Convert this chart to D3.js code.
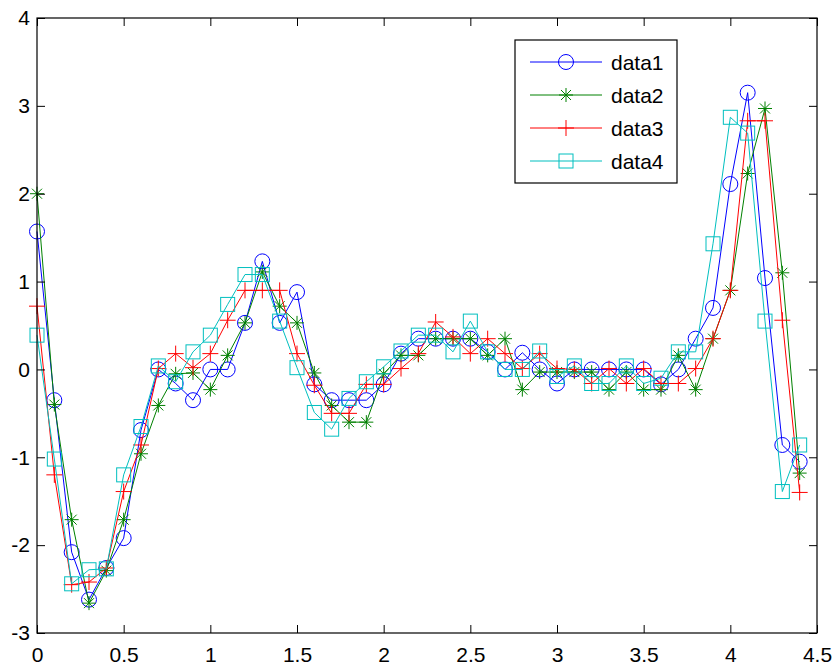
<!DOCTYPE html>
<html>
<head>
<meta charset="utf-8">
<script src="https://cdn.jsdelivr.net/npm/d3@7"></script>
<style>
  body { margin: 0; background: #fff; }
  svg text { font-family: "Liberation Sans", Arial, sans-serif; fill: #000; }
</style>
</head>
<body>
<div id="chart"></div>
<script>
var xValues = [0, 0.1, 0.2, 0.3, 0.4, 0.5, 0.6, 0.7, 0.8, 0.9,
  1.0, 1.1, 1.2, 1.3, 1.4, 1.5, 1.6, 1.7, 1.8, 1.9,
  2.0, 2.1, 2.2, 2.3, 2.4, 2.5, 2.6, 2.7, 2.8, 2.9,
  3.0, 3.1, 3.2, 3.3, 3.4, 3.5, 3.6, 3.7, 3.8, 3.9,
  4.0, 4.1, 4.2, 4.3, 4.4];

var data1 = [1.57, -0.35, -2.08, -2.62, -2.26, -1.92, -0.69, 0.00, -0.16, -0.35,
  0.00, 0.00, 0.53, 1.23, 0.53, 0.88, -0.17, -0.35, -0.35, -0.35,
  -0.17, 0.18, 0.35, 0.35, 0.35, 0.35, 0.20, 0.00, 0.19, 0.00,
  -0.16, 0.00, 0.00, 0.00, 0.00, 0.00, -0.17, 0.00, 0.35, 0.70,
  2.11, 3.15, 1.04, -0.86, -1.05];

var data2 = [2.00, -0.40, -1.71, -2.66, -2.29, -1.71, -0.96, -0.41, -0.05, -0.04,
  -0.23, 0.16, 0.53, 1.11, 0.72, 0.53, -0.04, -0.41, -0.60, -0.60,
  -0.05, 0.16, 0.16, 0.35, 0.35, 0.35, 0.16, 0.35, -0.23, -0.03,
  -0.03, -0.03, -0.03, -0.23, -0.03, -0.23, -0.23, 0.16, -0.23, 0.35,
  0.90, 2.23, 2.97, 1.10, -1.18];

var data3 = [0.72, -1.20, -2.45, -2.42, -2.26, -1.39, -0.86, 0.01, 0.18, 0.02,
  0.18, 0.56, 0.90, 0.90, 0.90, 0.18, -0.18, -0.50, -0.50, -0.17,
  -0.17, 0.01, 0.18, 0.54, 0.37, 0.18, 0.35, 0.18, 0.01, 0.18,
  0.01, 0.00, -0.16, 0.01, -0.16, 0.01, -0.16, -0.16, 0.01, 0.35,
  0.90, 2.83, 2.83, 0.56, -1.40];

var data4 = [0.39, -1.02, -2.44, -2.28, -2.27, -1.20, -0.65, 0.04, -0.14, 0.20,
  0.39, 0.74, 1.08, 1.08, 0.55, 0.02, -0.49, -0.68, -0.33, -0.14,
  0.03, 0.21, 0.39, 0.39, 0.20, 0.55, 0.20, 0.00, 0.00, 0.21,
  -0.08, 0.04, -0.16, -0.16, 0.04, -0.16, -0.10, 0.20, 0.20, 1.43,
  2.87, 2.69, 0.55, -1.39, -0.86];

var seriesNames = ["data1", "data2", "data3", "data4"];
var seriesColors = ["#0000ff", "#008000", "#ff0000", "#00bfbf"];
var seriesMarkers = ["circle", "star", "plus", "square"];
var xTicks = [0, 0.5, 1, 1.5, 2, 2.5, 3, 3.5, 4, 4.5];
var yTicks = [-3, -2, -1, 0, 1, 2, 3, 4];

var width = 835, height = 666;
var margin = { top: 18, right: 18, bottom: 33, left: 37 };
var plotW = width - margin.left - margin.right;
var plotH = height - margin.top - margin.bottom;
var tickLen = 8;

var svg = d3.select("#chart").append("svg")
  .attr("width", width)
  .attr("height", height);

var g = svg.append("g")
  .attr("transform", "translate(" + margin.left + "," + margin.top + ")");

var x = d3.scaleLinear().domain([0, 4.5]).range([0, plotW]);
var y = d3.scaleLinear().domain([-3, 4]).range([plotH, 0]);

// draw one marker shape at (cx, cy)
function drawMarker(sel, type, color, cx, cy) {
  var m = sel.append("g").attr("transform", "translate(" + cx + "," + cy + ")")
    .attr("fill", "none").attr("stroke", color).attr("stroke-width", 1);
  if (type === "circle") {
    m.append("circle").attr("r", 7.5);
  } else if (type === "square") {
    m.append("rect").attr("x", -7).attr("y", -7).attr("width", 14).attr("height", 14);
  } else if (type === "plus") {
    m.append("path").attr("d", "M-8,0H8M0,-8V8");
  } else if (type === "star") {
    m.append("path").attr("d", "M-7,0H7M0,-7V7M-5,-5L5,5M-5,5L5,-5");
  }
}

// series
var allData = [data1, data2, data3, data4];
var line = d3.line()
  .x(function (d, i) { return x(xValues[i]); })
  .y(function (d) { return y(d); });

allData.forEach(function (vals, s) {
  var sg = g.append("g").attr("class", "series");
  sg.append("path")
    .datum(vals)
    .attr("d", line)
    .attr("fill", "none")
    .attr("stroke", seriesColors[s])
    .attr("stroke-width", 1);
  vals.forEach(function (v, i) {
    drawMarker(sg, seriesMarkers[s], seriesColors[s], x(xValues[i]), y(v));
  });
});

// axes (box with inward ticks)
g.append("g")
  .attr("transform", "translate(0," + plotH + ")")
  .call(d3.axisBottom(x).tickValues(xTicks).tickSizeInner(-tickLen).tickSizeOuter(0).tickPadding(14)
    .tickFormat(function (d) { return String(d); }));
g.append("g")
  .call(d3.axisTop(x).tickValues(xTicks).tickSizeInner(-tickLen).tickSizeOuter(0).tickFormat(""));
g.append("g")
  .call(d3.axisLeft(y).tickValues(yTicks).tickSizeInner(-tickLen).tickSizeOuter(0).tickPadding(7)
    .tickFormat(function (d) { return String(d); }));
g.append("g")
  .attr("transform", "translate(" + plotW + ",0)")
  .call(d3.axisRight(y).tickValues(yTicks).tickSizeInner(-tickLen).tickSizeOuter(0).tickFormat(""));

g.selectAll(".domain").remove();
g.selectAll(".tick line").attr("stroke", "#000");
g.selectAll(".tick text").style("font-size", "21px");

g.append("rect")
  .attr("x", 0).attr("y", 0)
  .attr("width", plotW).attr("height", plotH)
  .attr("fill", "none").attr("stroke", "#000").attr("stroke-width", 1.2);

// legend
var legend = svg.append("g").attr("transform", "translate(515,40)");
legend.append("rect")
  .attr("width", 162).attr("height", 143)
  .attr("fill", "#fff").attr("stroke", "#000").attr("stroke-width", 1.2);
seriesNames.forEach(function (name, i) {
  var ly = 22 + i * 33;
  legend.append("line")
    .attr("x1", 15).attr("x2", 87).attr("y1", ly).attr("y2", ly)
    .attr("stroke", seriesColors[i]).attr("stroke-width", 1);
  drawMarker(legend, seriesMarkers[i], seriesColors[i], 51, ly);
  legend.append("text")
    .attr("x", 96).attr("y", ly)
    .attr("dy", "0.36em")
    .style("font-size", "21px")
    .text(name);
});
</script>
</body>
</html>
